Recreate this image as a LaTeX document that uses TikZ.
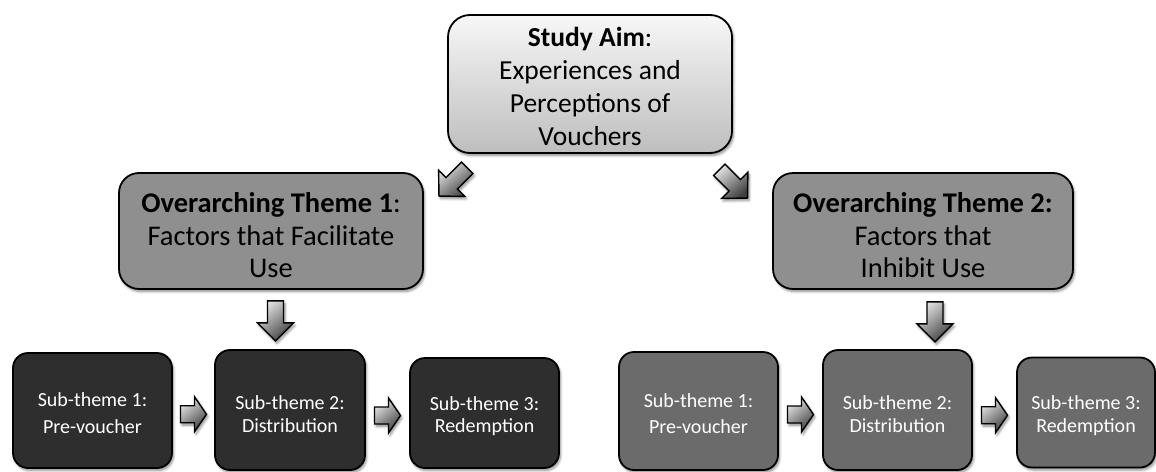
\documentclass[tikz,border=0pt]{standalone}
\usepackage{fontspec}
\setmainfont{Carlito}
\usetikzlibrary{calc,shadows.blur}

\definecolor{themegray}{HTML}{8F8F8F}
\definecolor{subdarkgray}{HTML}{2E2E2E}
\definecolor{sublightgray}{HTML}{6B6B6B}
\definecolor{aimtop}{HTML}{F7F7F7}
\definecolor{aimbottom}{HTML}{BEBEBE}

% invisible strut that lowers a text block inside its box
\newcommand\lift[1]{\rule{0pt}{#1}}

\tikzset{
  softshadow/.style={blur shadow={shadow xshift=1.5pt, shadow yshift=-2.5pt,
      shadow blur steps=6, shadow blur radius=2.5pt, shadow opacity=45}},
  box/.style={draw=black, line width=1.8pt, align=center, inner sep=0pt, softshadow},
  aimbox/.style={box, rounded corners=22pt, top color=aimtop, bottom color=aimbottom,
      minimum width=284pt, minimum height=138pt, font=\fontsize{27.5}{33}\selectfont},
  themebox/.style={box, rounded corners=20pt, fill=themegray,
      minimum height=116pt, font=\fontsize{28.5}{32.5}\selectfont},
  subbox/.style={box, rounded corners=15pt, text=white, font=\fontsize{20}{22.5}\selectfont},
  subdark/.style={subbox, fill=subdarkgray},
  sublight/.style={subbox, fill=sublightgray},
  arrowpaint/.style={draw=black, line width=1.4pt, line join=miter,
      top color=gray!22, bottom color=black!75, shading angle=40, softshadow},
  % block arrow pointing along +x: length, head width, shaft width, head length
  pics/blockarrow/.style n args={4}{code={
    \path[arrowpaint] (-#1/2,#3/2) -- (#1/2-#4,#3/2) -- (#1/2-#4,#2/2) -- (#1/2,0)
      -- (#1/2-#4,-#2/2) -- (#1/2-#4,-#3/2) -- (-#1/2,-#3/2) -- cycle;
  }},
}

\begin{document}
\begin{tikzpicture}[x=1pt, y=-1pt]
\useasboundingbox (0,0) rectangle (1156,471);

% study aim
\node[aimbox] (aim) at (590,84)
  {\lift{24pt}\textbf{Study Aim}:\\Experiences and\\Perceptions of\\Vouchers};

% overarching themes
\node[themebox, minimum width=304pt] (t1) at (271,231)
  {\lift{29pt}\textbf{Overarching Theme 1}:\\Factors that Facilitate\\Use};
\node[themebox, minimum width=300pt] (t2) at (923,231)
  {\lift{29pt}\textbf{Overarching Theme 2:}\\Factors that\\Inhibit Use};

% sub-themes, facilitating factors
\node[subdark, minimum width=159pt, minimum height=115pt] (l1) at (92.5,410.5)
  {\lift{19pt}Sub-theme 1:\\[5pt]Pre-voucher};
\node[subdark, minimum width=150pt, minimum height=120pt] (l2) at (290,410)
  {\lift{22pt}Sub-theme 2:\\Distribution};
\node[subdark, minimum width=149pt, minimum height=110pt] (l3) at (484.5,413)
  {\lift{20pt}Sub-theme 3:\\Redemption};

% sub-themes, inhibiting factors
\node[sublight, minimum width=159pt, minimum height=118pt] (r1) at (698.5,411)
  {\lift{19pt}Sub-theme 1:\\[3pt]Pre-voucher};
\node[sublight, minimum width=149pt, minimum height=120pt] (r2) at (897.5,410)
  {\lift{22pt}Sub-theme 2:\\Distribution};
\node[sublight, minimum width=138pt, minimum height=110pt] (r3) at (1086,412.5)
  {\lift{20pt}Sub-theme 3:\\Redemption};

% block arrows from the aim to the themes
\pic[rotate=-135] at ($(aim.south west)+(6,28)$) {blockarrow={40}{37}{16}{18}};
\pic[rotate=-45]  at ($(aim.south east)+(0.5,30)$) {blockarrow={40}{37}{16}{18}};

% block arrows from the themes to the sub-themes
\pic[rotate=-90] at ($(t1.south)+(4.5,31)$) {blockarrow={40}{36}{16}{18}};
\pic[rotate=-90] at ($(t2.south)+(12,32)$)  {blockarrow={40}{36}{16}{18}};

% block arrows between sub-themes
\pic at ($(l1.east)!0.5!(l2.west)+(0,4)$) {blockarrow={26}{35}{17}{12}};
\pic at ($(l2.east)!0.5!(l3.west)+(0,4)$) {blockarrow={26}{35}{17}{12}};
\pic at ($(r1.east)!0.5!(r2.west)+(0,4)$) {blockarrow={26}{35}{17}{12}};
\pic at ($(r2.east)!0.5!(r3.west)+(0,4)$) {blockarrow={26}{35}{17}{12}};
\end{tikzpicture}
\end{document}
